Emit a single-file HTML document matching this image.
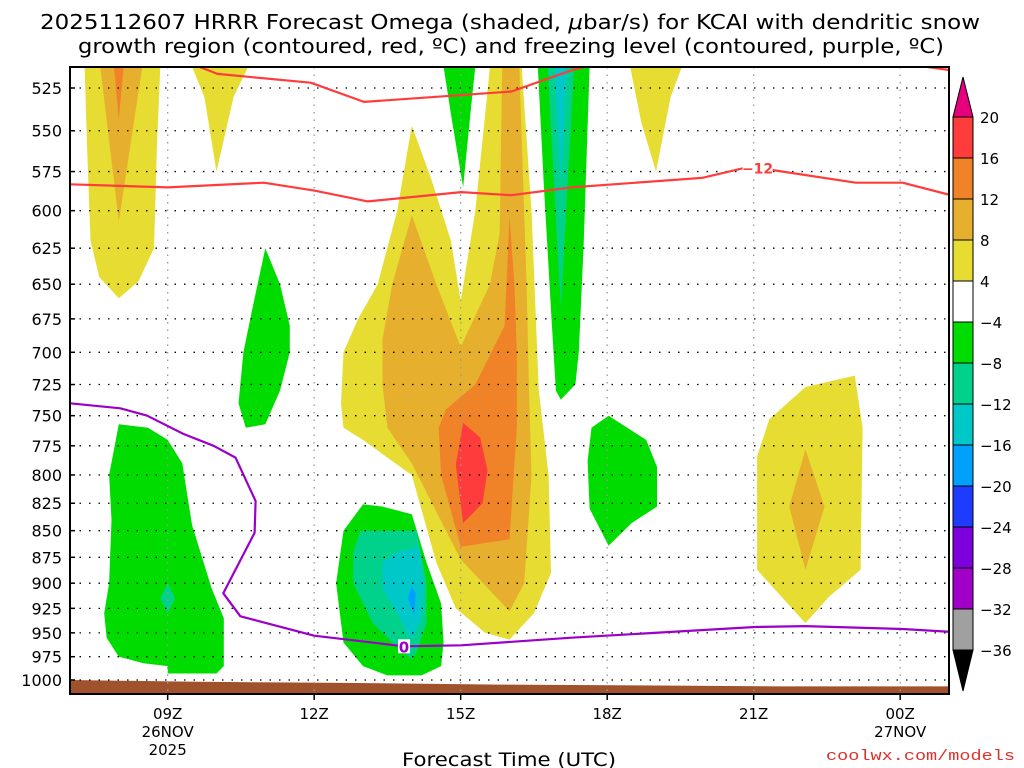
<!DOCTYPE html>
<html><head><meta charset="utf-8"><style>
html,body{margin:0;padding:0;background:#fff;}
svg{display:block;font-family:"DejaVu Sans","Liberation Sans",sans-serif;}
</style></head><body>
<svg id="chart" width="1024" height="768" viewBox="0 0 1024 768" xmlns="http://www.w3.org/2000/svg">
<g>
<text x="40" y="29" textLength="940" lengthAdjust="spacingAndGlyphs" font-size="20" fill="#000">2025112607 HRRR Forecast Omega (shaded, <tspan font-style="italic">μ</tspan>bar/s) for KCAI with dendritic snow</text>
<text x="78" y="53" textLength="866" lengthAdjust="spacingAndGlyphs" font-size="20" fill="#000">growth region (contoured, red, ºC) and freezing level (contoured, purple, ºC)</text>
</g>
<g id="fills"></g>
<g id="grid"></g>
<g id="lines"></g>
<g id="axes"></g>
<g id="cbar"></g>
<text x="402" y="766" textLength="214" lengthAdjust="spacingAndGlyphs" font-size="19" fill="#000">Forecast Time (UTC)</text>
<text x="826" y="760" textLength="189" lengthAdjust="spacingAndGlyphs" font-size="15" fill="#e0302a" font-family="Liberation Mono, monospace">coolwx.com/models</text>
</svg>
<script>
// ---- data ----
const pressureTicks=[525,550,575,600,625,650,675,700,725,750,775,800,825,850,875,900,925,950,975,1000];
const timeTicks=[9,12,15,18,21,24];
const timeLabels=["09Z","12Z","15Z","18Z","21Z","00Z"];
const dateLabels={9:["26NOV","2025"],24:["27NOV",""]};
const cbLevels=[20,16,12,8,4,-4,-8,-12,-16,-20,-24,-28,-32,-36];
const cbColors=["#ff3c3c","#f08228","#e6af2d","#e6dc32","#ffffff","#00dc00","#00d28c","#00c8c8","#00a0ff","#1e3cff","#7d00dc","#a000c8","#a0a0a0"];
const levelColor={"4":"#e6dc32","8":"#e6af2d","12":"#f08228","16":"#ff3c3c","-4":"#00dc00","-8":"#00d28c","-12":"#00c8c8","-16":"#00a0ff"};
// polygons: [level, [[hour, hPa], ...]]
const shapes=[
[4,[[7.3,513],[7.35,560],[7.42,620],[7.6,645],[8.0,660],[8.4,648],[8.72,625],[8.78,560],[8.85,513]]],
[8,[[7.62,513],[8.0,607],[8.48,513]]],
[12,[[7.9,513],[8.0,543],[8.1,513]]],
[4,[[9.5,513],[9.75,530],[10.0,575],[10.35,530],[10.65,513]]],
[-4,[[11.0,625],[10.75,665],[10.55,700],[10.45,740],[10.6,760],[11.0,757],[11.3,730],[11.5,700],[11.5,680],[11.3,650]]],
[-4,[[8.0,757],[7.8,800],[7.85,840],[7.8,900],[7.7,930],[7.75,955],[8.0,975],[8.5,982],[9.0,985],[9.0,993],[10.0,993],[10.15,985],[10.15,935],[9.9,905],[9.5,845],[9.3,790],[9.0,770],[8.6,760]]],
[-8,[[9.0,900],[8.85,915],[9.0,930],[9.15,915]]],
[-4,[[13.0,826],[13.4,828],[14.0,835],[14.3,880],[14.6,920],[14.65,960],[14.6,985],[14.2,995],[13.5,995],[13.0,985],[12.6,960],[12.45,900],[12.6,850]]],
[-8,[[12.95,850],[14.1,850],[14.3,900],[14.3,940],[14.1,970],[14.0,978],[13.6,960],[13.2,940],[12.8,900],[12.8,870]]],
[-12,[[13.4,880],[13.7,870],[14.15,865],[14.25,900],[14.2,935],[14.0,958],[13.7,930],[13.4,905]]],
[-16,[[14.0,903],[13.92,915],[14.05,932],[14.08,910]]],
[4,[[14.0,547],[13.7,600],[13.3,650],[12.9,675],[12.6,700],[12.55,740],[12.6,760],[13.0,770],[13.5,785],[14.0,800],[14.5,880],[14.9,925],[15.5,950],[16.0,957],[16.5,930],[16.85,890],[16.8,800],[16.6,730],[16.45,600],[16.25,513],[15.6,513],[15.3,600],[15.0,662],[14.8,620],[14.4,580]]],
[8,[[14.0,603],[13.6,650],[13.4,690],[13.4,725],[13.5,760],[14.0,790],[15.0,877],[16.0,928],[16.3,900],[16.45,800],[16.4,730],[16.35,650],[16.2,513],[15.85,513],[15.8,615],[15.6,650],[15.0,696],[14.5,650]]],
[12,[[16.0,604],[15.9,680],[15.3,725],[14.7,745],[14.55,760],[14.6,800],[15.0,865],[16.0,858],[16.15,760],[16.15,700],[16.1,650]]],
[16,[[15.05,756],[15.4,768],[15.55,796],[15.45,825],[15.05,843],[14.9,791]]],
[-4,[[14.65,513],[14.8,540],[15.05,585],[15.2,540],[15.3,513]]],
[-4,[[16.58,513],[16.7,582],[16.86,675],[16.95,730],[17.05,737],[17.35,725],[17.42,700],[17.52,622],[17.64,513]]],
[-8,[[16.78,513],[17.05,667],[17.32,513]]],
[-12,[[16.92,513],[17.05,582],[17.18,513]]],
[4,[[18.47,513],[18.7,545],[19.0,575],[19.3,530],[19.53,513]]],
[-4,[[18.03,750],[18.8,770],[19.02,793],[19.02,828],[18.5,843],[18.03,864],[17.64,830],[17.6,788],[17.68,760]]],
[4,[[21.32,753],[22.06,727],[23.07,718],[23.23,760],[23.19,887],[22.55,913],[22.06,940],[21.07,887],[21.07,784]]],
[8,[[22.06,778],[22.45,828],[22.06,887],[21.73,828]]]
];
const redUpper=[[9.65,513],[10.02,517],[11.93,522],[13.02,533],[14.54,530],[16.04,527],[17.27,515],[17.54,513]];
const redUpper2=[[24.53,513],[25.04,515]];
const redLower=[[7,583],[9.0,585],[10.97,582],[12.0,587],[13.1,594],[15.01,588],[16.04,590],[17.27,585],[19.94,579],[20.77,573],[21.38,574],[23.09,582],[24.05,582],[25.04,590]];
const purpleLine=[[7,740],[8.03,744],[8.58,750],[9.32,765],[9.94,775],[10.39,785],[10.8,823],[10.78,852],[10.14,910],[10.49,933],[12.0,953],[13.84,964],[15.01,963],[17.27,955],[21.03,944],[22.06,943],[24.05,946],[25.04,949]];
const groundHours=[7,9.6,12.3,15.8,19.0,21.5,25];
const groundP=[1000,1002,1003,1005,1006,1007,1007];
// ---- axes ----
const X0=70,X1=949,Y0=67,Y1=694,H0=7,H1=25;
const x=h=>X0+(h-H0)*(X1-X0)/(H1-H0);
const y=p=>88+918.7*Math.log(p/525);
const NS="http://www.w3.org/2000/svg";
function mk(tag,attrs,parent){const e=document.createElementNS(NS,tag);for(const k in attrs)e.setAttribute(k,attrs[k]);parent.appendChild(e);return e;}
const fills=document.getElementById('fills');
const defs=mk('defs',{},document.getElementById('chart'));
const cp=mk('clipPath',{id:'plotclip'},defs);
mk('rect',{x:X0,y:Y0,width:X1-X0,height:Y1-Y0},cp);
fills.setAttribute('clip-path','url(#plotclip)');
shapes.forEach((s,i)=>{
  const pts=s[1].map(q=>x(q[0]).toFixed(1)+','+y(q[1]).toFixed(1)).join(' ');
  const e=mk('polygon',{points:pts,fill:levelColor[String(s[0])]},fills);
  
  
});
{
  let d='M'+x(groundHours[0])+','+Y1;
  groundHours.forEach((h,i)=>{d+=' L'+x(h).toFixed(1)+','+y(groundP[i]).toFixed(1);});
  d+=' L'+x(groundHours[groundHours.length-1])+','+Y1+' Z';
  const g=mk('path',{d:d,fill:'#a0522d'},fills);
  
  
}
const grid=document.getElementById('grid');
pressureTicks.forEach(p=>{
  const l=mk('line',{x1:X0,x2:X1,y1:y(p),y2:y(p),stroke:'#000','stroke-width':1.3,'stroke-dasharray':'1.5 8'},grid);
  
  
});
timeTicks.forEach(h=>{
  const l=mk('line',{x1:x(h),x2:x(h),y1:Y0,y2:Y1,stroke:'#999','stroke-width':1.3,'stroke-dasharray':'1.5 6'},grid);
  
  
});
const lines=document.getElementById('lines');
lines.setAttribute('clip-path','url(#plotclip)');
function poly(arr,color,name){
  const e=mk('polyline',{points:arr.map(q=>x(q[0]).toFixed(1)+','+y(q[1]).toFixed(1)).join(' '),fill:'none',stroke:color,'stroke-width':2.2,'stroke-linejoin':'round'},lines);
  
  
}
poly(redUpper,'#ff3c3c','dgz-upper-contour');
poly(redUpper2,'#ff3c3c','dgz-upper-contour-right');
poly(redLower,'#ff3c3c','dgz-minus12-contour');
poly(purpleLine,'#9b00c8','freezing-level-contour');
{
  const bg=mk('rect',{x:x(21.08)-15,y:y(573)-8,width:30,height:15,fill:'#fff'},lines);
  
  
  const t=mk('text',{x:x(21.08),y:y(573)+5,'text-anchor':'middle','font-size':14,'font-weight':'bold',fill:'#ff3c3c'},lines);
  t.textContent='−12';
  
  
  const bg2=mk('rect',{x:x(13.84)-6,y:y(964)-7,width:12,height:14,fill:'#fff'},lines);
  
  
  const t2=mk('text',{x:x(13.84),y:y(964)+6,'text-anchor':'middle','font-size':15,'font-weight':'bold',fill:'#9b00c8'},lines);
  t2.textContent='0';
  
  
}
const axes=document.getElementById('axes');
{
  const f=mk('rect',{x:X0,y:Y0,width:X1-X0,height:Y1-Y0,fill:'none',stroke:'#000','stroke-width':2},axes);
  
  
}
pressureTicks.forEach(p=>{
  const t=mk('text',{x:62,y:y(p)+6,'text-anchor':'end','font-size':16,fill:'#000'},axes);
  t.textContent=p;
  
  
  const k=mk('line',{x1:X0,x2:X0+5,y1:y(p),y2:y(p),stroke:'#000','stroke-width':1.5},axes);
  
  
});
timeTicks.forEach((h,i)=>{
  const k=mk('line',{x1:x(h),x2:x(h),y1:Y1,y2:Y1+6,stroke:'#000','stroke-width':1.5},axes);
  
  
  const t=mk('text',{x:x(h),y:719,'text-anchor':'middle','font-size':15,fill:'#000'},axes);
  t.textContent=timeLabels[i];
  
  
  if(dateLabels[h]){
    dateLabels[h].forEach((s,j)=>{
      if(!s)return;
      const d=mk('text',{x:x(h),y:737+j*18,'text-anchor':'middle','font-size':15,fill:'#000'},axes);
      d.textContent=s;
      
      
    });
  }
});
const cb=document.getElementById('cbar');
const CBX=953,CBW=20,CBtop=117,CBstep=41;
const cy=i=>CBtop+i*CBstep;
{
  const tri=mk('polygon',{points:`${CBX},${cy(0)} ${CBX+CBW/2},77 ${CBX+CBW},${cy(0)}`,fill:'#e6007e',stroke:'#000','stroke-width':1},cb);
  
  
}
cbColors.forEach((c,i)=>{
  const r=mk('rect',{x:CBX,y:cy(i),width:CBW,height:CBstep,fill:c,stroke:'#000','stroke-width':1},cb);
  
  
});
{
  const n=cbColors.length;
  const tri=mk('polygon',{points:`${CBX},${cy(n)} ${CBX+CBW/2},691 ${CBX+CBW},${cy(n)}`,fill:'#000',stroke:'#000','stroke-width':1},cb);
  
  
}
cbLevels.forEach((v,i)=>{
  const t=mk('text',{x:980,y:cy(i)+6,'font-size':15,fill:'#000'},cb);
  t.textContent=(v<0?'−':'')+Math.abs(v);
  
  
});
</script>
</body></html>
